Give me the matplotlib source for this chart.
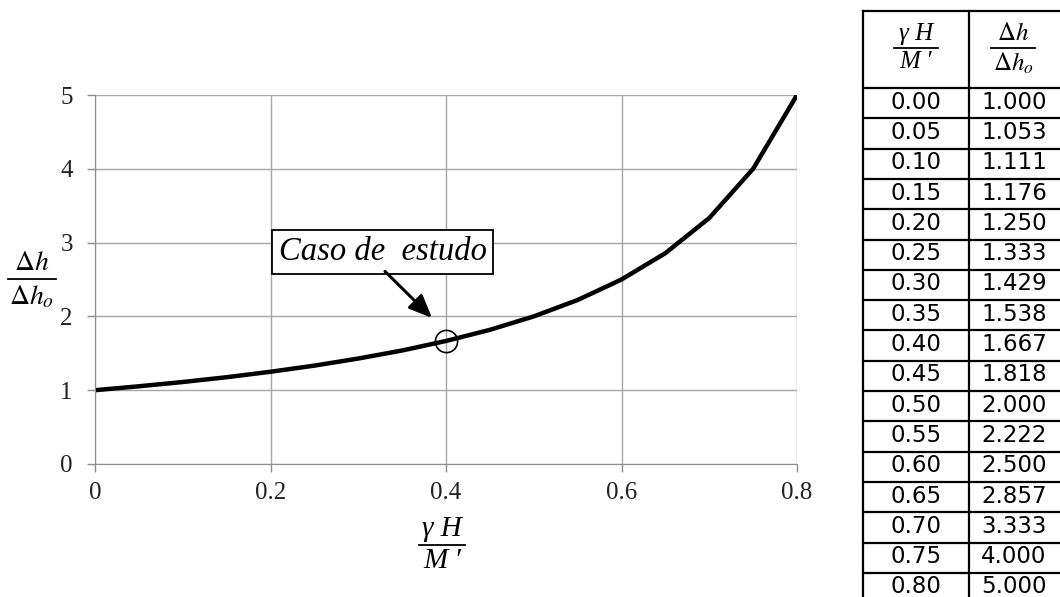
import matplotlib.pyplot as plt
from matplotlib.lines import Line2D

plt.rcParams['mathtext.fontset'] = 'stix'

ratio = [0.00, 0.05, 0.10, 0.15, 0.20, 0.25, 0.30, 0.35, 0.40,
         0.45, 0.50, 0.55, 0.60, 0.65, 0.70, 0.75, 0.80]
dh = [1.000, 1.053, 1.111, 1.176, 1.250, 1.333, 1.429, 1.538, 1.667,
      1.818, 2.000, 2.222, 2.500, 2.857, 3.333, 4.000, 5.000]
case_x = 0.40
case_y = 1.667
case_label = 'Caso de  estudo'

W, H = 1060, 597
fig = plt.figure(figsize=(W / 100, H / 100), dpi=100)


def px(x, y):
    return x / W, 1 - y / H


def bar(cx, cy, half):
    fig.add_artist(Line2D([(cx - half) / W, (cx + half) / W], [1 - cy / H] * 2,
                          color='black', lw=1.3, transform=fig.transFigure))


def fraction(num, den, cx, cy, half, size, **kw):
    # stacked fraction drawn in figure pixels: cx, cy = centre of the bar
    bar(cx, cy, half)
    fig.text(*px(cx, cy - 3), num, fontsize=size, ha='center', va='bottom', **kw)
    fig.text(*px(cx, cy + 3), den, fontsize=size, ha='center', va='top', **kw)


serif_it = dict(family='Liberation Serif', fontstyle='italic')

# main chart
ax = fig.add_axes([95 / W, 1 - 464 / H, (797 - 95) / W, (464 - 95) / H])
ax.plot(ratio, dh, color='black', lw=3.2, solid_capstyle='round')
ax.plot([case_x], [case_y], 'o', ms=16, mfc='none', mec='black', mew=1.2)
ax.set_xlim(0, 0.8)
ax.set_ylim(0, 5)
ax.set_xticks([0, 0.2, 0.4, 0.6, 0.8])
ax.set_xticklabels(['0', '0.2', '0.4', '0.6', '0.8'])
ax.set_yticks([0, 1, 2, 3, 4, 5])
ax.grid(True, color='#a6a6a6', lw=1)
for s in ax.spines.values():
    s.set_color('#8c8c8c')
ax.spines['top'].set_visible(False)
ax.spines['right'].set_visible(False)
ax.tick_params(colors='#8c8c8c', labelcolor='#222222', length=6, width=1,
               labelsize=18)
for lab in ax.get_xticklabels() + ax.get_yticklabels():
    lab.set_fontfamily('Liberation Serif')
ax.tick_params(axis='x', pad=7)
ax.tick_params(axis='y', pad=10)

ax.text(0.328, 2.87, case_label, fontsize=23.5, fontstyle='italic',
        family='Liberation Serif', ha='center', va='center',
        bbox=dict(boxstyle='square,pad=0.2', fc='white', ec='black', lw=1.3))
ax.annotate('', xy=(0.384, 1.98), xytext=(0.3305, 2.61),
            arrowprops=dict(arrowstyle='-|>,head_length=1.4,head_width=0.6',
                            mutation_scale=10, color='black', lw=2.2,
                            shrinkA=0, shrinkB=0))

fraction(r'$\Delta h$', r'$\Delta h_o$', 32, 279, 24, 20)
fraction('γ H', 'M \u2032', 442, 545, 23, 21, **serif_it)

# table
left, mid, right = 863, 969, 1075
top, head_bot = 11, 88
row_h = 30.3
tkw = dict(color='black', lw=1.6, transform=fig.transFigure)
bottom = head_bot + row_h * len(ratio)
for xx in (left, mid, right):
    fig.add_artist(Line2D([xx / W] * 2, [1 - top / H, 1 - bottom / H], **tkw))
fig.add_artist(Line2D([left / W, right / W], [1 - top / H] * 2, **tkw))
for i in range(len(ratio) + 1):
    yy = head_bot + i * row_h
    fig.add_artist(Line2D([left / W, right / W], [1 - yy / H] * 2, **tkw))

fraction('γ H', 'M \u2032', (left + mid) / 2, 48, 22, 18, **serif_it)
fraction(r'$\Delta h$', r'$\Delta h_o$', 1013, 48, 22, 18)
for i, (a, b) in enumerate(zip(ratio, dh)):
    yc = head_bot + (i + 0.5) * row_h - 1
    fig.text(*px(916, yc), f'{a:.2f}', fontsize=16.5,
             ha='center', va='center', family='DejaVu Sans')
    fig.text(*px(1014, yc), f'{b:.3f}', fontsize=16.5,
             ha='center', va='center', family='DejaVu Sans')

fig.savefig('out.png', dpi=100)
